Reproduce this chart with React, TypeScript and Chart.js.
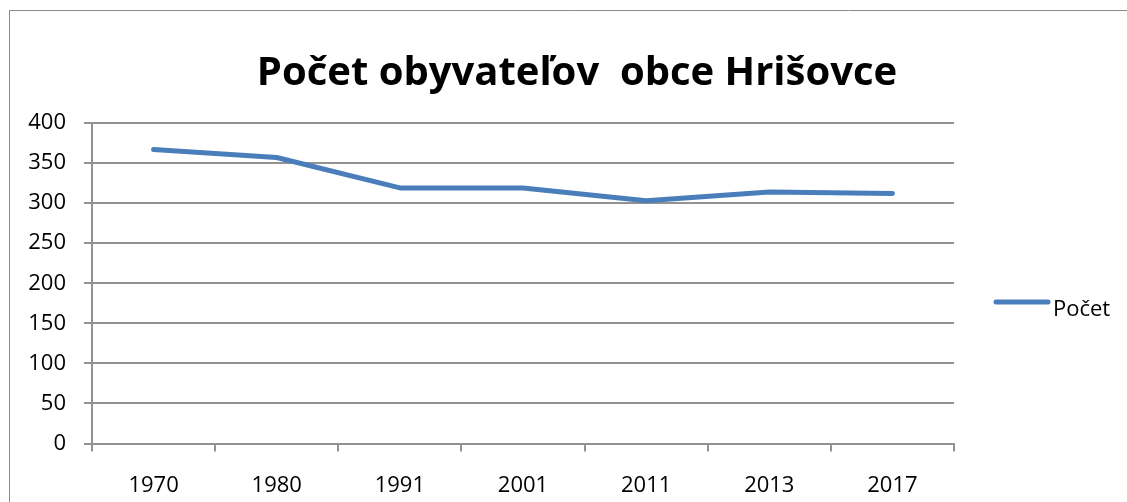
import React, { useEffect, useRef } from "react";
import { Chart, registerables } from "chart.js";

Chart.register(...registerables);

const TITLE = "Počet obyvateľov  obce Hrišovce";
const SERIES_LABEL = "Počet";
const categories = ["1970", "1980", "1991", "2001", "2011", "2013", "2017"];
const counts = [367, 357, 319, 319, 303, 314, 312];
const Y_MIN = 0;
const Y_MAX = 400;
const Y_STEP = 50;

const LINE_COLOR = "#4a7ebb";
const GRID_COLOR = "#929292";
const FONT = '"Open Sans", "DejaVu Sans", sans-serif';

const borderPlugin = {
  id: "outerBorder",
  beforeDraw(chart: any) {
    const ctx = chart.ctx;
    ctx.save();
    ctx.fillStyle = "#ffffff";
    ctx.fillRect(0, 0, chart.width, chart.height);
    ctx.strokeStyle = "#8a8a8a";
    ctx.lineWidth = 1;
    ctx.beginPath();
    ctx.moveTo(9.5, chart.height + 5);
    ctx.lineTo(9.5, 10.5);
    ctx.lineTo(chart.width + 5, 10.5);
    ctx.stroke();
    ctx.restore();
  },
};

const sideLegendPlugin = {
  id: "sideLegend",
  afterDraw(chart: any) {
    const ds = chart.data.datasets[0];
    const ctx = chart.ctx;
    const area = chart.chartArea;
    const x0 = area.right + 42;
    const y = 302;
    ctx.save();
    ctx.strokeStyle = ds.borderColor;
    ctx.lineWidth = 5;
    ctx.lineCap = "round";
    ctx.beginPath();
    ctx.moveTo(x0, y);
    ctx.lineTo(x0 + 52, y);
    ctx.stroke();
    ctx.fillStyle = "#000000";
    ctx.font = `22px ${FONT}`;
    ctx.textBaseline = "alphabetic";
    ctx.textAlign = "left";
    ctx.fillText(ds.label, x0 + 57, 316);
    ctx.restore();
  },
};

export default function App() {
  const ref = useRef<HTMLCanvasElement | null>(null);

  useEffect(() => {
    if (!ref.current) return;
    const chart = new Chart(ref.current, {
      type: "line",
      data: {
        labels: categories,
        datasets: [
          {
            label: SERIES_LABEL,
            data: counts,
            borderColor: LINE_COLOR,
            backgroundColor: LINE_COLOR,
            borderWidth: 5,
            borderCapStyle: "round",
            borderJoinStyle: "round",
            pointRadius: 0,
            pointHoverRadius: 0,
            tension: 0,
            fill: false,
          },
        ],
      },
      options: {
        responsive: false,
        animation: false,
        layout: { padding: { left: 27, right: 0, top: 0, bottom: 0 } },
        plugins: {
          legend: { display: false },
          tooltip: { enabled: false },
          title: {
            display: true,
            text: TITLE,
            color: "#000000",
            font: { family: FONT, size: 40, weight: "bold", lineHeight: 1.2 },
            padding: { top: 49.4, bottom: 25.6 },
          },
        },
        scales: {
          x: {
            type: "category",
            offset: true,
            grid: {
              offset: true,
              drawOnChartArea: false,
              drawTicks: true,
              tickLength: 8,
              color: GRID_COLOR,
              lineWidth: 2,
            },
            border: { display: true, color: GRID_COLOR, width: 2 },
            ticks: {
              color: "#000000",
              font: { family: FONT, size: 22 },
              padding: 21,
              maxRotation: 0,
              autoSkip: false,
            },
            afterFit(scale: any) {
              scale.height = 58.5;
            },
          },
          y: {
            min: Y_MIN,
            max: Y_MAX,
            grid: {
              drawTicks: true,
              tickLength: 8,
              color: GRID_COLOR,
              lineWidth: 2,
            },
            border: { display: true, color: GRID_COLOR, width: 2 },
            ticks: {
              stepSize: Y_STEP,
              color: "#000000",
              font: { family: FONT, size: 22 },
              padding: 18,
            },
            afterFit(scale: any) {
              scale.width = 65;
            },
          },
          legendSpace: {
            type: "linear",
            position: "right",
            display: true,
            grid: { drawOnChartArea: false, drawTicks: false },
            border: { display: false },
            ticks: { display: false },
            afterFit(scale: any) {
              scale.width = 173;
            },
          },
        },
      },
      plugins: [borderPlugin, sideLegendPlugin],
    });
    return () => chart.destroy();
  }, []);

  return (
    <div style={{ position: "fixed", left: 0, top: 0, width: 1127, height: 502 }}>
      <canvas ref={ref} width={1127} height={502} />
    </div>
  );
}
